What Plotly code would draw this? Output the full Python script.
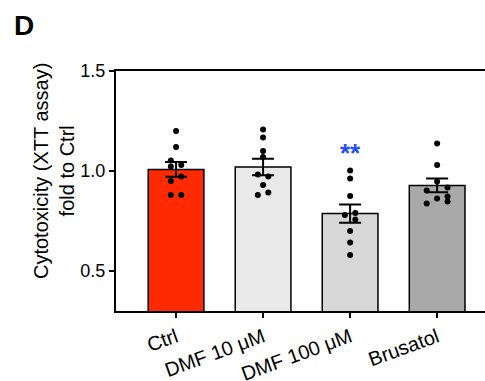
import plotly.graph_objects as go

categories = ["Ctrl", "DMF 10 μM", "DMF 100 μM", "Brusatol"]
means = [1.008, 1.02, 0.787, 0.928]
sems = [0.037, 0.041, 0.046, 0.034]
colors = ["#ff2a00", "#e9e9e9", "#d7d7d7", "#a9a9a9"]

ctrl_pts = [1.20, 1.12, 1.052, 1.022, 1.03, 0.972, 0.95, 0.88, 0.88]
dmf10_pts = [1.208, 1.168, 1.10, 1.07, 0.983, 0.972, 0.93, 0.88, 0.892]
dmf100_pts = [1.002, 0.963, 0.875, 0.78, 0.79, 0.758, 0.70, 0.642, 0.58]
brus_pts = [1.138, 1.03, 0.947, 0.902, 0.918, 0.863, 0.838, 0.872, 0.847]
points = [ctrl_pts, dmf10_pts, dmf100_pts, brus_pts]

jitter = [
    [0, 0, -0.06, -0.06, 0.06, 0.06, -0.06, -0.06, 0.06],
    [0, 0, 0, 0, -0.06, 0.06, 0, -0.06, 0.06],
    [0, 0, 0, -0.06, 0.06, 0.06, 0, 0, 0],
    [0, 0, 0, -0.12, 0.12, 0, -0.12, 0.12, 0.12],
]

fig = go.Figure()
fig.add_trace(go.Bar(
    x=list(range(len(categories))), y=means, width=0.64,
    marker=dict(color=colors, line=dict(color="black", width=1.5)),
    showlegend=False,
))

xs, ys = [], []
for i, pts in enumerate(points):
    for j, v in enumerate(pts):
        xs.append(i + jitter[i][j])
        ys.append(v)
fig.add_trace(go.Scatter(x=xs, y=ys, mode="markers",
                         marker=dict(color="black", size=6), showlegend=False))

fig.add_trace(go.Scatter(
    x=list(range(len(categories))), y=means, mode="markers",
    marker=dict(size=0.1, color="rgba(0,0,0,0)"),
    error_y=dict(type="data", array=sems, color="black", thickness=2, width=11),
    showlegend=False,
))

font = "Liberation Sans, Arial, sans-serif"
fig.update_layout(
    width=485, height=381,
    margin=dict(l=116, r=0, t=71, b=70),
    plot_bgcolor="white", paper_bgcolor="white",
    font=dict(family=font, color="black"),
    xaxis=dict(
        range=[-0.69, 3.55], tickmode="array",
        tickvals=list(range(len(categories))), ticktext=categories,
        tickangle=-20, tickfont=dict(size=20), automargin=False,
        showline=True, linecolor="black", linewidth=2, mirror=True,
        ticks="outside", ticklen=5, tickwidth=2, tickcolor="black",
        showgrid=False, zeroline=False,
    ),
    yaxis=dict(
        range=[0.3, 1.5], tickvals=[0.5, 1.0, 1.5], tickformat=".1f",
        tickfont=dict(size=18), automargin=False,
        showline=True, linecolor="black", linewidth=2,
        ticks="outside", ticklen=5, tickwidth=2, tickcolor="black",
        showgrid=False, zeroline=False,
    ),
    annotations=[
        dict(text="<b>D</b>", x=14, y=16, xref="paper", yref="paper",
             showarrow=False, font=dict(size=28), xanchor="left", yanchor="top"),
        dict(text="Cytotoxicity (XTT assay)<br>fold to Ctrl", textangle=-90,
             xref="paper", yref="paper", x=0, y=0, showarrow=False,
             xanchor="center", yanchor="middle", font=dict(size=20)),
        dict(text="<b>**</b>", x=2, y=1.09, xref="x", yref="y", showarrow=False,
             font=dict(size=26, color="#1f4fff")),
    ],
)

# position paper-space annotations in pixels
W, H = 485, 381
pl, pt, pb = 116, 71, 70
pw, ph = W - pl, H - pt - pb
def px_to_paper(xp, yp):
    return (xp - pl) / pw, (H - pb - yp) / ph
ann = list(fig.layout.annotations)
ann[0].x, ann[0].y = px_to_paper(12, 8)
ann[1].x, ann[1].y = px_to_paper(54, 171)
fig.layout.annotations = ann

fig.write_html("out.html", config={"displayModeBar": False},
               post_script="document.body.style.margin='0';")
